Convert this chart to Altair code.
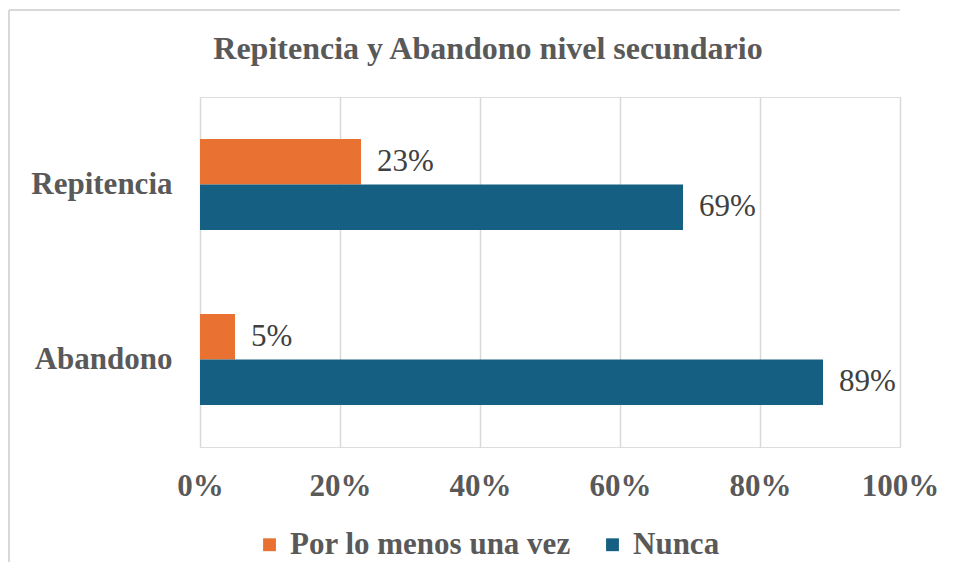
import altair as alt
import pandas as pd

categories = ["Repitencia", "Repitencia", "Abandono", "Abandono"]
series = ["Por lo menos una vez", "Nunca", "Por lo menos una vez", "Nunca"]
values = [23, 69, 5, 89]
labels = ["23%", "69%", "5%", "89%"]

cat_order = ["Repitencia", "Abandono"]
ser_order = ["Por lo menos una vez", "Nunca"]
colors = ["#E97132", "#156082"]
ticks = [0, 20, 40, 60, 80, 100]

df = pd.DataFrame({"cat": categories, "ser": series, "val": values, "lab": labels})

FONT = "Liberation Serif"

y_enc = alt.Y("cat:N", sort=cat_order, title=None,
              scale=alt.Scale(paddingInner=0.48, paddingOuter=0.24),
              axis=alt.Axis(domain=False, ticks=False, labelFont=FONT, labelFontSize=31,
                            labelFontWeight="bold", labelColor="#595959", labelPadding=28))
yoff = alt.YOffset("ser:N", sort=ser_order, scale=alt.Scale(paddingInner=0, paddingOuter=0))
x_enc = alt.X("val:Q", title=None, scale=alt.Scale(domain=[0, 100]),
              axis=alt.Axis(values=ticks, labelExpr="datum.value + '%'", domain=False, ticks=False,
                            grid=True, gridColor="#D9D9D9", gridWidth=1.5, labelFlush=False,
                            labelFont=FONT, labelFontSize=31, labelFontWeight="bold",
                            labelColor="#595959", labelPadding=24))

base = alt.Chart(df)

bars = base.mark_bar().encode(
    x=x_enc,
    y=y_enc,
    yOffset=yoff,
    color=alt.Color("ser:N", sort=ser_order, title=None,
                    scale=alt.Scale(domain=ser_order, range=colors),
                    legend=alt.Legend(orient="none", direction="horizontal", legendX=54, legendY=432,
                                      symbolType="square", symbolSize=165, symbolStrokeWidth=0,
                                      labelFont=FONT, labelFontSize=31, labelFontWeight="bold",
                                      labelColor="#595959", columnPadding=26, labelOffset=5,
                                      labelLimit=0)),
)

text = base.mark_text(align="left", baseline="middle", dx=16, font=FONT, fontSize=31,
                      color="#404040").encode(
    x="val:Q",
    y=alt.Y("cat:N", sort=cat_order),
    yOffset=alt.YOffset("ser:N", sort=ser_order),
    text="lab:N",
)

border_top = alt.Chart(pd.DataFrame({"a": [0]})).mark_rule(color="#D9D9D9", strokeWidth=2).encode(
    x=alt.value(-191), x2=alt.value(700), y=alt.value(-87), y2=alt.value(-87))
border_left = alt.Chart(pd.DataFrame({"a": [0]})).mark_rule(color="#D9D9D9", strokeWidth=2).encode(
    x=alt.value(-191), x2=alt.value(-191), y=alt.value(-87), y2=alt.value(470))

chart = alt.layer(border_top, border_left, bars, text).properties(
    width=700, height=350,
    title=alt.TitleParams("Repitencia y Abandono nivel secundario", font=FONT, fontSize=32,
                          fontWeight="bold", color="#595959", anchor="middle", dx=-62, offset=0, dy=57),
    autosize=alt.AutoSizeParams(type="none"),
    padding={"left": 192, "top": 89, "right": 49, "bottom": 115},
).configure_view(stroke=None).configure(background="white")

chart.save("out.html", embed_options={"renderer": "svg", "actions": False})
